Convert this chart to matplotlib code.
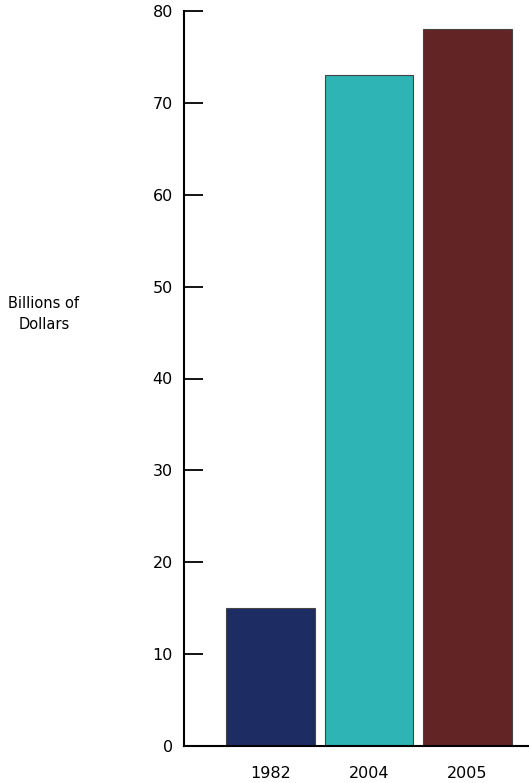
import matplotlib
matplotlib.use('Agg')
import matplotlib.pyplot as plt
import numpy as np

years = ['1982', '2004', '2005']
values = [15, 73, 78]
colors = ['#1e2c64', '#2eb4b4', '#622425']
yticks = [0, 10, 20, 30, 40, 50, 60, 70, 80]

plt.rcParams['font.family'] = ['DejaVu Sans']

fig = plt.figure(figsize=(5.29, 7.83), dpi=100)
ax = fig.add_axes([184/529, 37/783, 1 - 184/529, (746 - 11)/783])

x = np.arange(len(years))
ax.bar(x, values, width=0.9, color=colors, edgecolor='#444444', linewidth=0.8, zorder=2)

ax.set_xlim(-0.878, 2.624)
ax.set_ylim(0, 80)
ax.set_yticks(yticks)
ax.set_xticks(x)
ax.set_xticklabels(years)

ax.spines['top'].set_visible(False)
ax.spines['right'].set_visible(False)
ax.spines['left'].set_linewidth(1.5)
ax.spines['bottom'].set_linewidth(1.5)

ax.tick_params(axis='y', direction='in', length=14, width=1.3, pad=8, labelsize=11.5)
ax.tick_params(axis='x', length=0, pad=14.5, labelsize=11.5)

fig.text(44/529, 1 - 314/783, 'Billions of\nDollars', ha='center', va='center',
         fontsize=10.5, linespacing=1.5)

fig.savefig('out.png', dpi=100)
